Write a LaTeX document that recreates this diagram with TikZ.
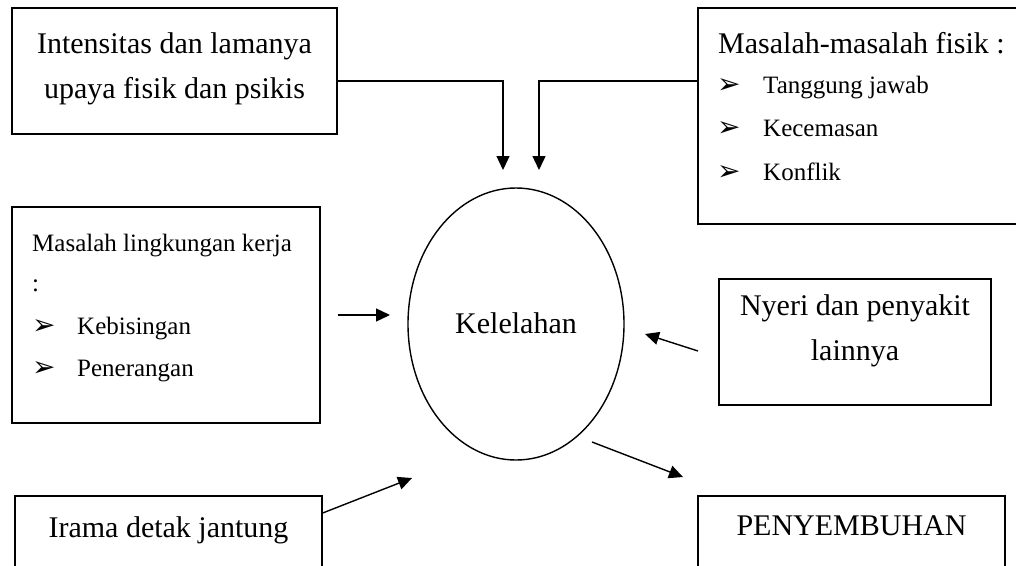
\documentclass[tikz,border=0pt]{standalone}
\usepackage{fontspec}
\setmainfont{Liberation Serif}
\newfontfamily\symfont{DejaVu Sans}
\usetikzlibrary{arrows.meta,shapes.geometric}
\tikzset{
	box/.style={draw, line width=1.4pt, rectangle, inner sep=0pt},
	arr/.style={line width=1.4pt, -{Triangle[length=14pt,width=13pt]}},
	big/.style={font=\fontsize{30}{45}\selectfont, inner sep=0pt},
	small/.style={font=\fontsize{25}{40}\selectfont, inner sep=0pt},
	bul/.style={font=\symfont\fontsize{28}{28}\selectfont, inner sep=0pt}
}
\begin{document}
\begin{tikzpicture}[x=1pt,y=-1pt]
			\useasboundingbox (0,0) rectangle (1016,565);
			\clip (0,0) rectangle (1016,565);
			\node [box, minimum width=325pt, minimum height=126pt] (intens) at (174.5,71) {};
			\node [box, minimum width=332pt, minimum height=216pt] (fisik) at (864,116) {};
			\node [box, minimum width=308pt, minimum height=216pt] (lingk) at (166,315) {};
			\node [box, minimum width=272pt, minimum height=126pt] (nyeri) at (855,342) {};
			\node [box, minimum width=307pt, minimum height=104pt] (irama) at (168.5,548) {};
			\node [box, minimum width=307pt, minimum height=104pt] (sembuh) at (851.5,548) {};
			\node [draw, ellipse, line width=1.4pt, minimum width=216pt, minimum height=272pt, inner sep=0pt] (kel) at (516,324) {};
			\node [big, anchor=base] (t1a) at (174.5,53) {Intensitas dan lamanya};
			\node [big, anchor=base] (t1b) at (174.5,98) {upaya fisik dan psikis};
			\node [big, anchor=base west] (t2) at (718,53) {Masalah-masalah fisik :};
			\node [bul, anchor=base west] (b2a) at (717,93) {➢};
			\node [small, anchor=base west] (t2a) at (763,93) {Tanggung jawab};
			\node [bul, anchor=base west] (b2b) at (717,136) {➢};
			\node [small, anchor=base west] (t2b) at (763,136) {Kecemasan};
			\node [bul, anchor=base west] (b2c) at (717,180) {➢};
			\node [small, anchor=base west] (t2c) at (763,180) {Konflik};
			\node [small, anchor=base west] (t3) at (32,251) {Masalah lingkungan kerja};
			\node [small, anchor=base west] (t3x) at (32,291) {:};
			\node [bul, anchor=base west] (b3a) at (32,334) {➢};
			\node [small, anchor=base west] (t3a) at (77,334) {Kebisingan};
			\node [bul, anchor=base west] (b3b) at (32,376) {➢};
			\node [small, anchor=base west] (t3b) at (77,376) {Penerangan};
			\node [big, anchor=base] (t4a) at (855,315) {Nyeri dan penyakit};
			\node [big, anchor=base] (t4b) at (855,360) {lainnya};
			\node [big, anchor=base] (t5) at (168.5,537) {Irama detak jantung};
			\node [big, anchor=base] (t6) at (851.5,535) {PENYEMBUHAN};
			\node [big, anchor=base] (tk) at (516,333) {Kelelahan};
			\coordinate (tipA) at (503,170);
			\coordinate (tipB) at (539,170);
			\coordinate (tipC) at (390,315);
			\coordinate (outD) at (698,351);
			\coordinate (tipD) at (645,334);
			\coordinate (tipE) at (412,478);
			\coordinate (outF) at (592,442);
			\coordinate (tipF) at (683,477);
			\draw [arr] ([yshift=-10pt]intens.east) -| (tipA);
			\draw [arr] ([yshift=35pt]fisik.west) -| (tipB);
			\draw [arr, shorten <=17pt] (lingk.east) -- (tipC);
			\draw [arr] (outD) -- (tipD);
			\draw [arr] ([yshift=35pt]irama.east) -- (tipE);
			\draw [arr] (outF) -- (tipF);
		\end{tikzpicture}
\end{document}
